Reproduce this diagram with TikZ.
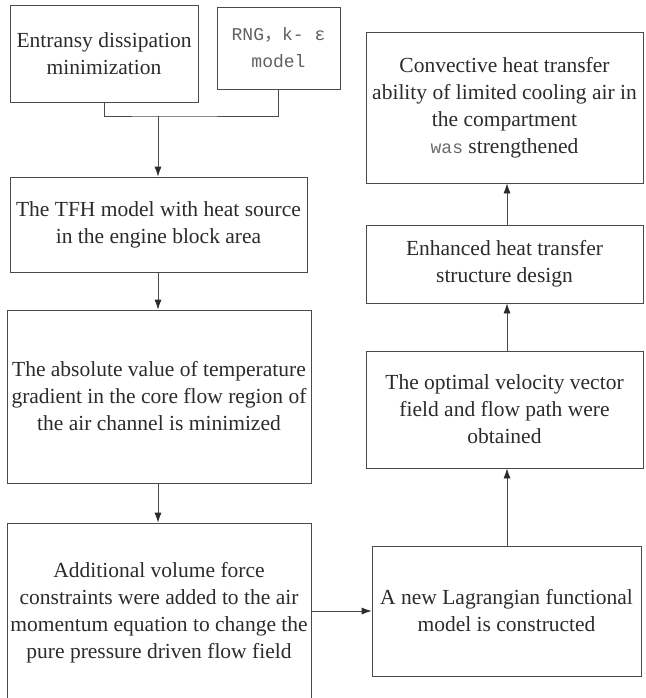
\documentclass[tikz,border=0pt]{standalone}
\usepackage{fontspec}
\setmainfont{Liberation Serif}
\newfontfamily\monofont{Liberation Mono}
\newfontfamily\cjkfont{Noto Sans CJK SC}
\usepackage{tikz}
\usetikzlibrary{arrows.meta,positioning}
\usepackage{xcolor}
\definecolor{ink}{HTML}{2b2b2b}
\definecolor{edge}{HTML}{4a4a4a}

\begin{document}
\begin{tikzpicture}[x=1pt,y=-1pt,
  box/.style={draw=edge,line width=0.8pt,align=center,inner sep=0pt,
    text=ink,font=\fontsize{21.5}{27}\selectfont},
  flow/.style={draw=edge,line width=0.8pt,-{Latex[length=10pt,width=7pt,color=ink]}}]
  \useasboundingbox (0,0) rectangle (645,698);
  % left column
  \node[box,minimum width=188pt,minimum height=97pt] (entransy) at (104,53.5)
    {Entransy dissipation\\minimization};
  \node[box,minimum width=123pt,minimum height=82pt,text=ink!75,
    font=\monofont\fontsize{18}{27}\selectfont] (rng) at (278.5,48)
    {RNG{\cjkfont ，}k-~ε\\model};
  \node[box,minimum width=297pt,minimum height=95pt] (tfh) at (158.5,224.5)
    {The TFH model with heat source\\in the engine block area};
  \node[box,minimum width=304pt,minimum height=173pt] (gradient) at (159,396.5)
    {The absolute value of temperature\\gradient in the core flow region of\\the air channel is minimized};
  \node[box,minimum width=304pt,minimum height=180pt] (force) at (159,613)
    {Additional volume force\\constraints were added to the air\\momentum equation to change the\\pure pressure driven flow field};
  % right column
  \node[box,minimum width=269pt,minimum height=130pt] (lagrange) at (506.5,611)
    {A new Lagrangian functional\\model is constructed};
  \node[box,minimum width=277pt,minimum height=117pt] (optimal) at (504.5,409.5)
    {The optimal velocity vector\\field and flow path were\\obtained};
  \node[box,minimum width=277pt,minimum height=78pt] (enhanced) at (504.5,264)
    {Enhanced heat transfer\\structure design};
  \node[box,minimum width=277pt,minimum height=151pt] (convective) at (504.5,107.5)
    {Convective heat transfer\\ability of limited cooling air in\\the compartment\\{\monofont\fontsize{18}{27}\selectfont\color{ink!70}was}\ strengthened};
  % connectors
  \coordinate (join) at (158,116);
  \coordinate (rcol) at (507,0);
  \draw[draw=edge,line width=0.8pt] (entransy.south) |- (join) -| (rng.south);
  \draw[flow] (join) -- (join |- tfh.north);
  \draw[flow] (tfh.south -| join) -- (join |- gradient.north);
  \draw[flow] (gradient.south -| join) -- (join |- force.north);
  \draw[flow] (force.east |- lagrange.west) -- (lagrange.west);
  \draw[flow] (lagrange.north -| rcol) -- (optimal.south -| rcol);
  \draw[flow] (optimal.north -| rcol) -- (enhanced.south -| rcol);
  \draw[flow] (enhanced.north -| rcol) -- (convective.south -| rcol);
\end{tikzpicture}
\end{document}
